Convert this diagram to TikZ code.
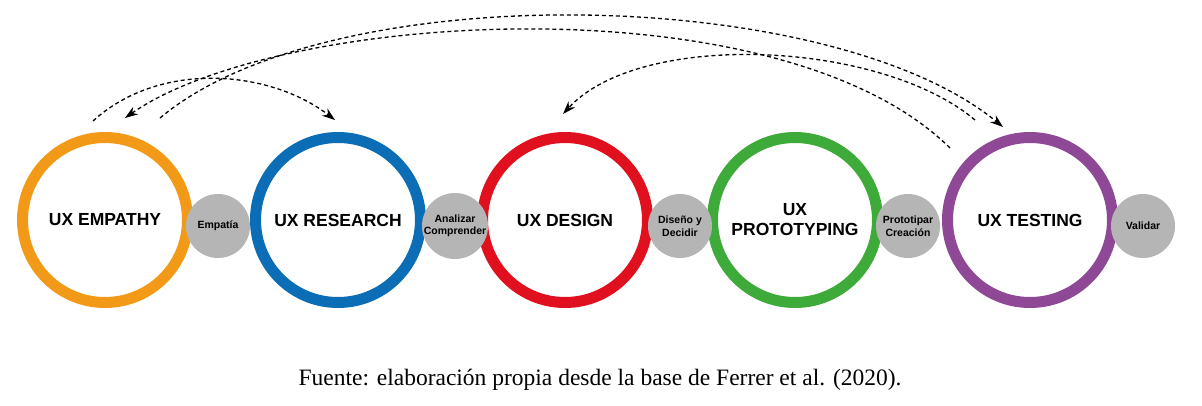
\documentclass[tikz,border=0pt]{standalone}
\usepackage{fontspec}
\setmainfont{Liberation Serif}
\newfontfamily\sans{Liberation Sans}
\usetikzlibrary{arrows.meta}
\definecolor{cO}{HTML}{F29A17}
\definecolor{cB}{HTML}{0B6DB5}
\definecolor{cR}{HTML}{E1101E}
\definecolor{cG}{HTML}{3EAA3A}
\definecolor{cP}{HTML}{8E4896}
\definecolor{cGr}{HTML}{B5B5B5}
\begin{document}
\begin{tikzpicture}[x=1pt,y=-1pt,
  ring/.style={circle,draw=#1,line width=11pt,minimum size=165pt,inner sep=0pt,font=\sans\bfseries\fontsize{17.5}{20}\selectfont,align=center},
  small/.style={circle,fill=cGr,minimum size=64pt,inner sep=0pt,font=\sans\bfseries\fontsize{10.5}{12.5}\selectfont,align=center},
  link/.style={line width=1.3pt,dash pattern=on 4pt off 3pt},
  tip/.style={-{Stealth[length=13pt,width=9pt]}}]
\useasboundingbox (0,0) rectangle (1202,405);
\node[ring=cO] (e) at (105,220) {UX EMPATHY};
\node[ring=cB] (r) at (338,220) {UX RESEARCH};
\node[ring=cR] (d) at (565,220) {UX DESIGN};
\node[ring=cG] (p) at (795,220) {UX\\PROTOTYPING};
\node[ring=cP] (t) at (1030,220) {UX TESTING};
\node[small] (s1) at (218,226) {Empatía};
\node[small] (s2) at (455,226) {Analizar\\Comprender};
\node[small] (s3) at (680,226) {Diseño y\\Decidir};
\node[small] (s4) at (908,226) {Prototipar\\Creación};
\node[small] (s5) at (1143,226) {Validar};
\coordinate (a1s) at (93,121);
\coordinate (a1e) at (335,120);
\coordinate (a2s) at (160,118);
\coordinate (a2e) at (1003,127);
\coordinate (a3s) at (950,148);
\coordinate (a3e) at (125,118);
\coordinate (a4s) at (975,120);
\coordinate (a4e) at (563,114);
\draw[link,tip] (a1s) .. controls (160,60) and (270,70) .. (a1e);
\draw[link,tip] (a2s) .. controls (330,-25) and (830,-15) .. (a2e);
\draw[link,tip] (a3s) .. controls (780,-20) and (280,10) .. (a3e);
\draw[link,tip] (a4s) .. controls (880,40) and (640,30) .. (a4e);
\node[font=\fontsize{23.5}{26}\selectfont] (cap) at (600,380) {Fuente: elaboración propia desde la base de Ferrer et al. (2020).};
\end{tikzpicture}
\end{document}
